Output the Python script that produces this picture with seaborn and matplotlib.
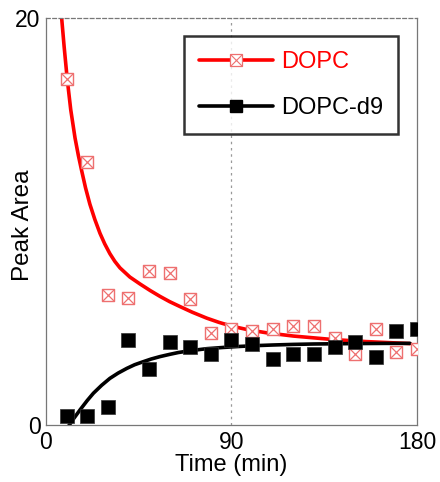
import matplotlib
matplotlib.use("Agg")
import matplotlib.pyplot as plt
from matplotlib.lines import Line2D
from matplotlib.legend_handler import HandlerTuple
import pandas as pd
import seaborn as sns

sns.set_style("white")
plt.rcParams["font.family"] = ["Liberation Sans", "DejaVu Sans"]
plt.rcParams["text.color"] = "black"
plt.rcParams["axes.labelcolor"] = "black"
plt.rcParams["xtick.color"] = "black"
plt.rcParams["ytick.color"] = "black"

# measured points
time_pts = [10, 20, 30, 40, 50, 60, 70, 80, 90, 100, 110, 120, 130, 140, 150, 160, 170, 180]
dopc = [17.0, 12.9, 6.4, 6.25, 7.55, 7.45, 6.2, 4.5, 4.7, 4.6, 4.7, 4.85, 4.85, 4.25, 3.5, 4.7, 3.6, 3.75]
dopc_d9 = [0.45, 0.45, 0.9, 4.2, 2.75, 4.1, 3.85, 3.5, 4.2, 4.0, 3.25, 3.5, 3.5, 3.85, 4.1, 3.35, 4.6, 4.7]

# fitted curves
fit_t_red = [7.6, 8.8, 10.3, 12, 14.1, 15.7, 17.3, 19.2, 21.3, 23.7, 26.2, 28.5, 31, 33.4, 35.9,
             40.7, 45.6, 50.5, 55.3, 60, 65, 71, 78, 84, 90, 98, 107, 120, 139, 155, 176.6]
fit_red = [20.0, 18.6, 17.0, 15.5, 14.1, 13.25, 12.5, 11.65, 10.85, 10.1, 9.42, 8.9, 8.42, 8.04,
           7.72, 7.27, 6.93, 6.61, 6.32, 6.06, 5.82, 5.54, 5.25, 5.04, 4.86, 4.68, 4.53, 4.37,
           4.2, 4.1, 4.0]
fit_t_blk = [10.8, 13, 16.5, 20, 23, 27, 31, 35, 39.2, 43, 47.2, 51, 55.3, 60, 64.2, 70, 78,
             86, 94, 102, 110, 120, 130, 140, 150, 165, 176.6]
fit_blk = [-0.08, 0.25, 0.74, 1.2, 1.56, 1.95, 2.29, 2.55, 2.78, 2.96, 3.11, 3.24, 3.36, 3.47,
           3.56, 3.65, 3.75, 3.81, 3.86, 3.9, 3.93, 3.96, 3.98, 3.99, 4.0, 4.01, 4.01]

red = "#ff0000"
pink = "#ee7070"

fig = plt.figure(figsize=(4.4, 4.82), dpi=100)
ax = fig.add_axes([0.1045, 0.1183, 0.8432, 0.8444])

ax.axvline(90, color="#999999", lw=0.9, ls=(0, (2, 3)), zorder=0)

sns.lineplot(x=fit_t_red, y=fit_red, ax=ax, color=red, lw=2.6, sort=False, zorder=2)
sns.lineplot(x=fit_t_blk, y=fit_blk, ax=ax, color="black", lw=2.6, sort=False, zorder=2)

pts = pd.DataFrame({"t": time_pts, "dopc": dopc, "d9": dopc_d9})
sns.scatterplot(data=pts, x="t", y="dopc", ax=ax, marker="s", s=78, facecolor="white",
                edgecolor=pink, linewidth=1.0, zorder=3)
ax.scatter(pts["t"], pts["dopc"], marker="x", s=78, color=pink, linewidth=0.9, zorder=4)
sns.scatterplot(data=pts, x="t", y="d9", ax=ax, marker="s", s=92, color="black",
                edgecolor="#333333", linewidth=0.5, zorder=5)

ax.set_xlim(0, 180)
ax.set_ylim(0, 20)
ax.set_xticks([0, 90, 180])
ax.set_yticks([0, 20])
ax.tick_params(length=0, labelsize=16.5, pad=4)
ax.set_xlabel("Time (min)", fontsize=17, labelpad=0)
ax.set_ylabel("Peak Area", fontsize=17.5)
ax.yaxis.set_label_coords(-0.032, 0.49)
for side in ["left", "bottom", "right", "top"]:
    ax.spines[side].set_color("#777777")
    ax.spines[side].set_linewidth(0.9)
ax.spines["top"].set_linestyle((0, (3, 2)))

h_red_line = Line2D([], [], color=red, lw=2.6, marker="s", markersize=8,
                    markerfacecolor="white", markeredgecolor=pink, markeredgewidth=0.9)
h_red_x = Line2D([], [], ls="none", marker="x", markersize=8, color=pink, markeredgewidth=0.8)
h_blk = Line2D([], [], color="black", lw=2.6, marker="s", markersize=9,
               markerfacecolor="black", markeredgecolor="black")
leg = ax.legend([(h_red_line, h_red_x), h_blk], ["DOPC", "DOPC-d9"], loc="upper left",
                handler_map={tuple: HandlerTuple(ndivide=1, pad=0)},
                bbox_to_anchor=(0.372, 0.956), borderaxespad=0, fontsize=17,
                frameon=True, fancybox=False, handlelength=3.1, handletextpad=0.35,
                labelspacing=1.0, borderpad=0.65, edgecolor="black")
leg.get_frame().set_linewidth(1.8)
leg.get_texts()[0].set_color(red)

fig.savefig("out.png", dpi=100)
